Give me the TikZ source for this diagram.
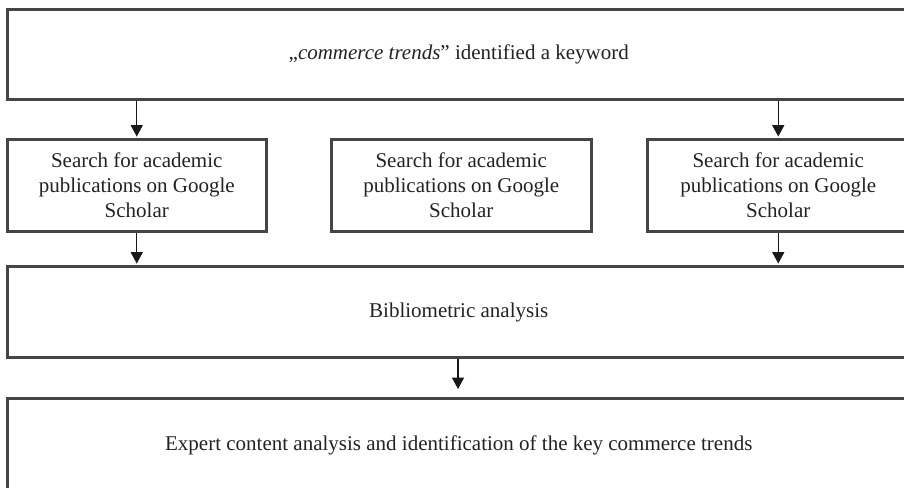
\documentclass[tikz,border=0pt]{standalone}
\usepackage{fontspec}
\setmainfont{Liberation Serif}
\usetikzlibrary{arrows.meta}
\definecolor{framegray}{HTML}{454545}
\definecolor{inkgray}{HTML}{222222}
\tikzset{
	box/.style={draw=framegray, line width=2.25pt, align=center, inner sep=0pt,
		text=inkgray, font=\fontsize{15.75pt}{18.75pt}\selectfont},
	flow/.style={draw=black!90, line width=0.9pt,
		-{Triangle[width=9pt,length=8.5pt]}, shorten >=1.1pt}
}
\begin{document}
\begin{tikzpicture}[x=0.75pt, y=-0.75pt]
	\useasboundingbox (0,0) rectangle (904,488);
	\clip (0,0) rectangle (904,488);
	% wide rows run past the right margin
	\node[box, minimum width=902.5*0.75pt, minimum height=90.5*0.75pt] (keyword) at (458.75,54.75)
		{„\textit{commerce trends}” identified a keyword};
	\node[box, minimum width=258.5*0.75pt, minimum height=92*0.75pt] (searchA) at (136.75,185.5)
		{Search for academic\\publications on Google\\Scholar};
	\node[box, minimum width=259.5*0.75pt, minimum height=92*0.75pt] (searchB) at (461.25,185.5)
		{Search for academic\\publications on Google\\Scholar};
	\node[box, minimum width=261.5*0.75pt, minimum height=92*0.75pt] (searchC) at (778.25,185.5)
		{Search for academic\\publications on Google\\Scholar};
	\node[box, minimum width=902.5*0.75pt, minimum height=91*0.75pt] (biblio) at (458.75,312)
		{Bibliometric analysis};
	\node[box, minimum width=902.5*0.75pt, minimum height=92*0.75pt] (expert) at (458.75,445)
		{Expert content analysis and identification of the key commerce trends};

	\draw[flow] (searchA.north |- keyword.south) -- (searchA.north);
	\draw[flow] (searchC.north |- keyword.south) -- (searchC.north);
	\draw[flow] (searchA.south) -- (searchA.south |- biblio.north);
	\draw[flow] (searchC.south) -- (searchC.south |- biblio.north);
	\coordinate (gap) at (458,389);
	\draw[flow, shorten >=0pt] (gap |- biblio.south) -- (gap);
\end{tikzpicture}
\end{document}
